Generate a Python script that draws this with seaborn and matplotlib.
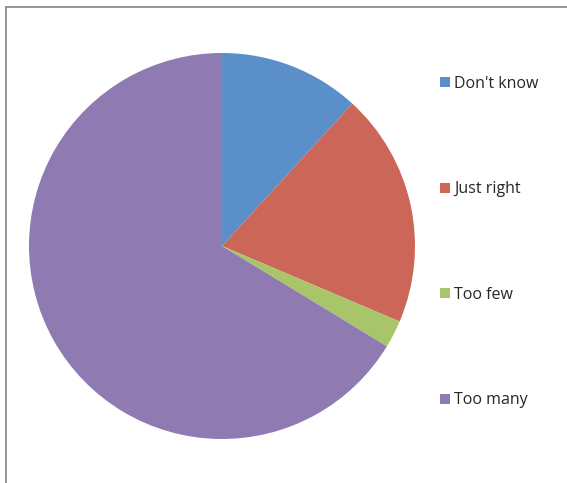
import matplotlib
matplotlib.use("Agg")
import matplotlib.pyplot as plt
from matplotlib.patches import Patch
from matplotlib.lines import Line2D
import seaborn as sns

categories = ["Don't know", "Just right", "Too few", "Too many"]
values = [11.8, 19.6, 2.3, 66.3]
colors = ["#5B8FC9", "#CC6658", "#A8C56A", "#8F7BB2"]

sns.set_theme(style="white")
plt.rcParams['font.family'] = ['Open Sans', 'DejaVu Sans']

W, H = 567, 483
fig = plt.figure(figsize=(W / 100, H / 100), dpi=100)
fig.patch.set_facecolor("white")
ax = fig.add_axes([0, 0, 1, 1])

pal = sns.color_palette(colors)
ax.pie(values, colors=pal, startangle=90, counterclock=False,
       center=(222, H - 246), radius=193, frame=True,
       wedgeprops=dict(linewidth=0))
ax.set_xlim(0, W)
ax.set_ylim(0, H)
ax.set_aspect("equal")
ax.axis("off")

# frame lines (top and left)
fig.add_artist(Line2D([6 / W, 1], [1 - 7 / H, 1 - 7 / H], color="#8c8c8c", lw=1.3, transform=fig.transFigure))
fig.add_artist(Line2D([6 / W, 6 / W], [0, 1 - 7 / H], color="#8c8c8c", lw=1.3, transform=fig.transFigure))

handles = [Patch(facecolor=c, edgecolor="none") for c in pal]
leg = fig.legend(handles, categories, loc="upper left",
                 bbox_to_anchor=(440 / W, 1 - 76 / H), frameon=False,
                 fontsize=11.5, handlelength=0.6, handleheight=0.6,
                 handletextpad=0.3, labelspacing=5.6, borderaxespad=0,
                 borderpad=0)

fig.savefig("out.png", dpi=100)
